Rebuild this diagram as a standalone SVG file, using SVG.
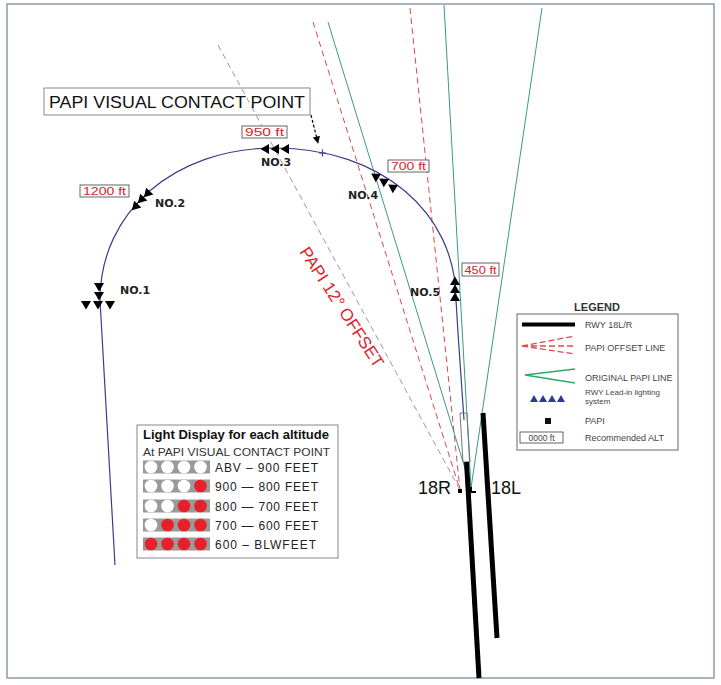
<svg xmlns="http://www.w3.org/2000/svg" width="721" height="685" viewBox="0 0 721 685">
<style>
text{font-family:"Liberation Sans",Arial,sans-serif}
.no{font-family:"DejaVu Sans","Liberation Sans",sans-serif;font-size:11px;font-weight:bold;fill:#222}
.alt{font-size:11px;fill:#d8262c}
.altbox{fill:#fff;stroke:#555;stroke-width:0.9}
.red{stroke:#e0474c;stroke-width:1;stroke-dasharray:6 4;fill:none}
.gray{stroke:#9a9a9a;stroke-width:1;stroke-dasharray:6 4;fill:none}
.grn{stroke:#3b9a86;stroke-width:1;fill:none}
.rwy{stroke:#000;stroke-width:5;stroke-linecap:butt}
.lg{font-size:9px;fill:#444}
.row{font-size:12px;fill:#222}
.w{fill:#fff}
.r{fill:#e8202a}
.tri{fill:#000}
</style>
<defs>
<path id="t" d="M0,-4.5 L5,4 L-5,4 Z"/>
<marker id="ah" viewBox="0 0 10 10" refX="9" refY="5" markerWidth="6" markerHeight="6" orient="auto"><path d="M0,0 L10,5 L0,10 Z" fill="#000"/></marker>
</defs>
<rect x="7" y="4" width="707" height="674" fill="#fff" stroke="#8a9bb0" stroke-width="1.5"/>

<g id="connectors">
<line class="gray" x1="218" y1="45" x2="460" y2="490"/>
<line class="red" x1="313" y1="22" x2="460" y2="490"/>
<line class="red" x1="410" y1="8" x2="460" y2="490"/>
<line class="grn" x1="328" y1="22" x2="471" y2="488"/>
<line class="grn" x1="444" y1="5" x2="471" y2="488"/>
<line class="grn" x1="542" y1="8" x2="471" y2="488"/>
<path id="circuit" d="M115,565 L100,300 C100,212 174,148 275,148 C380,148 456,212 456,300 L458,333 L464,420" fill="none" stroke="#3b3b8f" stroke-width="1.2"/>
<line x1="311" y1="115" x2="318" y2="143" stroke="#000" stroke-width="1.2" stroke-dasharray="3 2" marker-end="url(#ah)"/>
</g>

<g id="runway-18R">
<polygon points="460,413 467,413 470,462 463,462" fill="none" stroke="#777" stroke-width="1"/>
<line class="rwy" x1="466.5" y1="462" x2="479" y2="678"/>
<rect x="458" y="489" width="4" height="4" fill="#000"/>
<rect x="470" y="487" width="2" height="6" fill="#000"/>
<rect x="470" y="491" width="6" height="2" fill="#000"/>
<text x="418" y="494" font-size="18" fill="#111">18R</text>
</g>
<g id="runway-18L">
<line class="rwy" x1="483" y1="413" x2="497" y2="638"/>
<text x="491" y="494" font-size="18" fill="#111">18L</text>
</g>

<g id="contact-point">
<rect x="44" y="88" width="266" height="27" fill="none" stroke="#888" stroke-width="1"/>
<text x="49" y="108" font-size="17" fill="#111" textLength="256" lengthAdjust="spacingAndGlyphs">PAPI VISUAL CONTACT POINT</text>
<path d="M319,153 h7 M322.5,149.5 v7" stroke="#3b3b8f" stroke-width="1.2"/>
</g>

<g id="offset-label">
<text transform="translate(342,307) rotate(57)" x="0" y="6" text-anchor="middle" font-size="17" fill="#e0202a">PAPI 12° OFFSET</text>
</g>

<g id="no1">
<use href="#t" class="tri" transform="translate(99,287) rotate(180)"/>
<use href="#t" class="tri" transform="translate(99,296) rotate(180)"/>
<use href="#t" class="tri" transform="translate(86,305) rotate(180)"/>
<use href="#t" class="tri" transform="translate(98,305) rotate(180)"/>
<use href="#t" class="tri" transform="translate(110,305) rotate(180)"/>
<text class="no" x="120" y="294">NO.1</text>
</g>
<g id="no2">
<use href="#t" class="tri" transform="translate(135,207) rotate(-136)"/>
<use href="#t" class="tri" transform="translate(141,200) rotate(-136)"/>
<use href="#t" class="tri" transform="translate(147,194) rotate(-136)"/>
<text class="no" x="155" y="207">NO.2</text>
<rect class="altbox" x="80" y="185" width="49" height="12"/>
<text class="alt" x="104.5" y="195" text-anchor="middle" textLength="43" lengthAdjust="spacingAndGlyphs">1200 ft</text>
</g>
<g id="no3">
<use href="#t" class="tri" transform="translate(265,149) rotate(-90)"/>
<use href="#t" class="tri" transform="translate(275,149) rotate(-90)"/>
<use href="#t" class="tri" transform="translate(285,149) rotate(-90)"/>
<text class="no" x="261" y="166">NO.3</text>
<rect class="altbox" x="242" y="126" width="45" height="12"/>
<text class="alt" x="264.5" y="136" text-anchor="middle" textLength="39" lengthAdjust="spacingAndGlyphs">950 ft</text>
</g>
<g id="no4">
<use href="#t" class="tri" transform="translate(375,176) rotate(-58)"/>
<use href="#t" class="tri" transform="translate(383,181) rotate(-58)"/>
<use href="#t" class="tri" transform="translate(392,187) rotate(-58)"/>
<text class="no" x="348" y="199">NO.4</text>
<rect class="altbox" x="388" y="160" width="41" height="12"/>
<text class="alt" x="408.5" y="170" text-anchor="middle" textLength="35" lengthAdjust="spacingAndGlyphs">700 ft</text>
</g>
<g id="no5">
<use href="#t" class="tri" transform="translate(455,281)"/>
<use href="#t" class="tri" transform="translate(455,289)"/>
<use href="#t" class="tri" transform="translate(455,297)"/>
<text class="no" x="410" y="296">NO.5</text>
<rect class="altbox" x="462" y="263" width="37" height="13"/>
<text class="alt" x="480.5" y="273.5" text-anchor="middle" textLength="32" lengthAdjust="spacingAndGlyphs">450 ft</text>
</g>

<g id="legend">
<text x="597" y="311" text-anchor="middle" font-size="11" font-weight="bold" fill="#333">LEGEND</text>
<rect x="517" y="314" width="161" height="136" fill="none" stroke="#666" stroke-width="1"/>
<line x1="522" y1="324.5" x2="575" y2="324.5" stroke="#000" stroke-width="4"/>
<text class="lg" x="585" y="328">RWY 18L/R</text>
<path d="M522,346 L575,336 M522,346 L575,346 M522,346 L575,354" stroke="#e0474c" stroke-width="1.3" stroke-dasharray="6 3" fill="none"/>
<text class="lg" x="585" y="351">PAPI OFFSET LINE</text>
<path d="M525,375 L575,369 M525,375 L575,383" stroke="#2fa86a" stroke-width="1.5" fill="none"/>
<text class="lg" x="585" y="381">ORIGINAL PAPI LINE</text>
<g fill="#2a3a9a">
<path d="M530,402 l4,-7 l4,7 Z"/><path d="M539,402 l4,-7 l4,7 Z"/><path d="M548,402 l4,-7 l4,7 Z"/><path d="M557,402 l4,-7 l4,7 Z"/>
</g>
<text x="585" y="395" font-size="8" fill="#444">RWY Lead-in lighting</text>
<text x="585" y="404" font-size="8" fill="#444">system</text>
<rect x="545" y="418" width="6" height="6" fill="#111"/>
<text class="lg" x="585" y="424">PAPI</text>
<rect x="520" y="432" width="43" height="11" fill="#fff" stroke="#555" stroke-width="0.9"/>
<text x="541.5" y="441" text-anchor="middle" font-size="8.5" fill="#444">0000 ft</text>
<text class="lg" x="585" y="441">Recommended ALT</text>
</g>

<g id="light-display">
<rect x="137" y="425" width="201" height="133" fill="#fff" stroke="#888" stroke-width="1"/>
<text x="143" y="439" font-size="12" font-weight="bold" fill="#111" textLength="186" lengthAdjust="spacingAndGlyphs">Light Display for each altitude</text>
<text x="143" y="456" font-size="11.5" fill="#333" textLength="187" lengthAdjust="spacingAndGlyphs">At PAPI VISUAL CONTACT POINT</text>
<g id="row1">
<rect x="143" y="460.5" width="67" height="13" fill="#9a9a9a"/>
<circle class="w" cx="151" cy="467" r="6.3"/><circle class="w" cx="167.5" cy="467" r="6.3"/><circle class="w" cx="184" cy="467" r="6.3"/><circle class="w" cx="200.5" cy="467" r="6.3"/>
<text class="row" x="215" y="471.5" textLength="103">ABV  –  900 FEET</text>
</g>
<g id="row2">
<rect x="143" y="479.5" width="67" height="13" fill="#9a9a9a"/>
<circle class="w" cx="151" cy="486" r="6.3"/><circle class="w" cx="167.5" cy="486" r="6.3"/><circle class="w" cx="184" cy="486" r="6.3"/><circle class="r" cx="200.5" cy="486" r="6.3"/>
<text class="row" x="215" y="490.5" textLength="103">900 — 800 FEET</text>
</g>
<g id="row3">
<rect x="143" y="499.5" width="67" height="13" fill="#9a9a9a"/>
<circle class="w" cx="151" cy="506" r="6.3"/><circle class="w" cx="167.5" cy="506" r="6.3"/><circle class="r" cx="184" cy="506" r="6.3"/><circle class="r" cx="200.5" cy="506" r="6.3"/>
<text class="row" x="215" y="510.5" textLength="103">800 — 700 FEET</text>
</g>
<g id="row4">
<rect x="143" y="518.5" width="67" height="13" fill="#9a9a9a"/>
<circle class="w" cx="151" cy="525" r="6.3"/><circle class="r" cx="167.5" cy="525" r="6.3"/><circle class="r" cx="184" cy="525" r="6.3"/><circle class="r" cx="200.5" cy="525" r="6.3"/>
<text class="row" x="215" y="529.5" textLength="103">700 — 600 FEET</text>
</g>
<g id="row5">
<rect x="143" y="537.5" width="67" height="13" fill="#9a9a9a"/>
<circle class="r" cx="151" cy="544" r="6.3"/><circle class="r" cx="167.5" cy="544" r="6.3"/><circle class="r" cx="184" cy="544" r="6.3"/><circle class="r" cx="200.5" cy="544" r="6.3"/>
<text class="row" x="215" y="548.5" textLength="101">600  –  BLWFEET</text>
</g>
</g>
</svg>
